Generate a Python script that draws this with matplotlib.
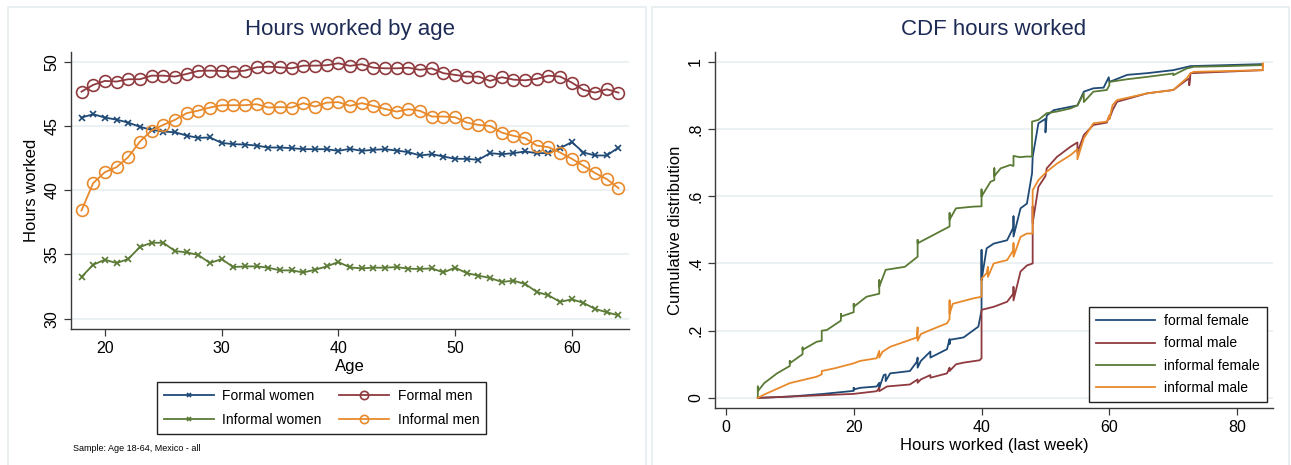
import matplotlib
matplotlib.use('Agg')
import matplotlib.pyplot as plt
from matplotlib.patches import Rectangle

plt.rcParams['font.family'] = ['Liberation Sans', 'DejaVu Sans']

# Hours worked by age, ages 18-64
ages = list(range(18, 65))
formal_women = [45.65, 45.91, 45.65, 45.49, 45.26, 44.93, 44.69, 44.56, 44.51, 44.25, 44.07, 44.10,
                43.68, 43.58, 43.55, 43.47, 43.32, 43.32, 43.27, 43.19, 43.19, 43.19,
                43.06, 43.22, 43.06, 43.14, 43.19, 43.08, 42.96, 42.70, 42.80, 42.62, 42.44, 42.44,
                42.36, 42.88, 42.80, 42.88, 43.01, 42.88, 42.88, 43.27, 43.74, 42.93, 42.70, 42.70, 43.32]
formal_men = [47.67, 48.19, 48.50, 48.45, 48.63, 48.63, 48.91, 48.91, 48.84, 49.04, 49.28, 49.30,
              49.28, 49.22, 49.30, 49.56, 49.61, 49.56, 49.48, 49.69, 49.69, 49.72, 49.87,
              49.67, 49.80, 49.53, 49.48, 49.48, 49.53, 49.36, 49.48, 49.10, 48.97, 48.84, 48.84,
              48.50, 48.79, 48.60, 48.55, 48.66, 48.91, 48.84, 48.37, 47.80, 47.59, 47.85, 47.59]
informal_women = [33.25, 34.20, 34.59, 34.33, 34.64, 35.58, 35.91, 35.91, 35.27, 35.16, 34.96, 34.33,
                  34.64, 34.02, 34.07, 34.07, 33.97, 33.76, 33.76, 33.60, 33.81, 34.07,
                  34.41, 33.99, 33.92, 33.97, 33.97, 34.02, 33.89, 33.87, 33.92, 33.60, 33.97, 33.55,
                  33.35, 33.17, 32.86, 32.96, 32.70, 32.08, 31.82, 31.31, 31.51, 31.23, 30.76, 30.50, 30.26]
informal_men = [38.42, 40.55, 41.40, 41.79, 42.57, 43.78, 44.64, 45.08, 45.47, 45.99, 46.19, 46.43,
                46.61, 46.61, 46.61, 46.69, 46.43, 46.46, 46.43, 46.77, 46.50, 46.81,
                46.85, 46.56, 46.77, 46.56, 46.32, 46.11, 46.30, 46.17, 45.73, 45.73, 45.68, 45.26,
                45.08, 45.00, 44.48, 44.23, 44.05, 43.47, 43.35, 42.93, 42.44, 41.90, 41.33, 40.86, 40.16]

# CDF of hours worked last week (unsorted duplicates give the vertical ticks)
ff_hours = [5, 10, 15.3, 20, 20, 20, 21, 23.6, 24, 24, 24.7, 25, 25, 25.7, 28.8, 29.9, 30, 30, 30.5,
            32, 32, 34.6, 35, 35, 35.1, 37.2, 39.5, 40, 40, 40, 40.8, 41.9, 44, 45, 45, 45, 46.1,
            47.1, 47.9, 48, 48.9, 50, 50, 50.2, 51.3, 53.9, 55, 56, 57.5, 59.1, 59.9, 60, 62.8,
            65.9, 70, 72.7, 84]
ff_cdf = [0, 0.004, 0.012, 0.021, 0.03, 0.025, 0.03, 0.034, 0.045, 0.03, 0.068, 0.07, 0.05, 0.073,
          0.08, 0.108, 0.12, 0.09, 0.11, 0.138, 0.12, 0.145, 0.175, 0.16, 0.173, 0.18, 0.212, 0.26,
          0.44, 0.35, 0.445, 0.459, 0.469, 0.508, 0.54, 0.48, 0.564, 0.578, 0.668, 0.717, 0.817,
          0.83, 0.79, 0.84, 0.856, 0.866, 0.87, 0.911, 0.921, 0.923, 0.954, 0.94, 0.961, 0.966,
          0.975, 0.987, 0.993]

fm_hours = [5, 15, 20, 23.6, 24, 24, 25.2, 28.8, 30, 30, 30.5, 32, 32, 34.6, 35, 35, 36, 37.2, 39.7,
            40, 40, 41.9, 44, 45, 45, 45, 46.1, 47.1, 48, 48, 48, 48.9, 50, 50.2, 51.8, 53.9, 55,
            55, 56, 57.5, 59.6, 60, 60, 60.5, 61.2, 65.9, 70, 72.1, 72.5, 72.5, 72.7, 84]
fm_cdf = [0, 0.008, 0.012, 0.02, 0.03, 0.02, 0.034, 0.04, 0.055, 0.045, 0.055, 0.068, 0.06, 0.073,
          0.09, 0.08, 0.1, 0.105, 0.112, 0.118, 0.262, 0.271, 0.286, 0.311, 0.33, 0.29, 0.376,
          0.394, 0.40, 0.57, 0.52, 0.628, 0.66, 0.683, 0.717, 0.747, 0.76, 0.73, 0.782, 0.812,
          0.819, 0.84, 0.83, 0.856, 0.881, 0.906, 0.916, 0.946, 0.95, 0.93, 0.966, 0.975]

if_hours = [5, 5, 5, 6, 8, 10, 10, 10, 12, 12, 12, 14.2, 15, 15, 15.8, 18, 18, 18, 20, 20, 20, 22,
            24, 24, 24, 25, 28, 30, 30, 30, 32, 35, 35, 35, 36, 38.7, 40, 40, 40, 41.4, 42, 42, 42,
            43, 44.5, 45, 45, 46, 47, 47.9, 47.9, 48.9, 50.2, 51.8, 53.9, 55, 56, 56, 57.5, 59.6,
            60, 60, 62.8, 65.9, 70, 70, 72.1, 73.2, 78.4, 84]
if_cdf = [0, 0.034, 0.02, 0.044, 0.073, 0.095, 0.11, 0.103, 0.13, 0.15, 0.143, 0.167, 0.17, 0.2,
          0.202, 0.23, 0.25, 0.242, 0.255, 0.28, 0.271, 0.301, 0.31, 0.35, 0.331, 0.381, 0.39,
          0.42, 0.47, 0.46, 0.48, 0.51, 0.55, 0.53, 0.564, 0.569, 0.57, 0.62, 0.599, 0.643, 0.648,
          0.683, 0.66, 0.683, 0.693, 0.69, 0.72, 0.716, 0.718, 0.718, 0.822, 0.827, 0.847, 0.852,
          0.861, 0.87, 0.906, 0.88, 0.911, 0.916, 0.93, 0.94, 0.948, 0.955, 0.965, 0.96, 0.98,
          0.985, 0.987, 0.99]

im_hours = [5, 6, 10, 14.2, 15, 15, 17, 20, 21, 23.6, 24, 24, 24.5, 25.7, 29.9, 30, 30, 30.5, 32,
            34.6, 35, 35, 35, 35.5, 38.7, 40, 40, 40.8, 41, 41, 41.9, 44, 45, 45, 45, 46.1, 47.1,
            48, 48, 48.9, 50.2, 51.8, 53.9, 55, 55, 56, 57.5, 59.6, 60, 60, 60.5, 61.2, 65.9, 70,
            72.1, 72.7, 73.2, 84, 84, 84]
im_cdf = [0, 0.01, 0.044, 0.063, 0.07, 0.08, 0.088, 0.103, 0.11, 0.118, 0.14, 0.12, 0.137, 0.152,
          0.18, 0.21, 0.17, 0.19, 0.202, 0.222, 0.235, 0.29, 0.25, 0.28, 0.296, 0.301, 0.355,
          0.371, 0.39, 0.36, 0.40, 0.41, 0.44, 0.46, 0.42, 0.479, 0.489, 0.489, 0.618, 0.648,
          0.673, 0.697, 0.722, 0.74, 0.71, 0.772, 0.817, 0.822, 0.84, 0.83, 0.871, 0.886, 0.906,
          0.916, 0.951, 0.966, 0.970, 0.975, 0.995, 0.985]

NAVY = '#1f4a76'
MAROON = '#8f3a3e'
GREEN = '#5a7a35'
ORANGE = '#e88a2c'
TITLE_C = '#1d2b55'
GRID_C = '#e9eff2'
SPINE_C = '#3a3a3a'

fig = plt.figure(figsize=(12.91, 4.65), dpi=100)

# light frames around each graph
for x0, x1 in [(8, 646), (652, 1289)]:
    fig.add_artist(Rectangle((x0 / 1291, -0.1), (x1 - x0) / 1291, (1 - 7 / 465) + 0.1,
                             transform=fig.transFigure, fill=False, edgecolor='#e6ecef', lw=1.2))


def style_axes(ax):
    for s in ['top', 'right']:
        ax.spines[s].set_visible(False)
    for s in ['left', 'bottom']:
        ax.spines[s].set_color(SPINE_C)
        ax.spines[s].set_linewidth(1.0)
    ax.tick_params(direction='out', length=5, width=0.9, color=SPINE_C, labelsize=11.5)
    ax.grid(axis='y', color=GRID_C, lw=1.2)
    ax.set_axisbelow(True)
    for lab in ax.get_yticklabels():
        lab.set_rotation(90)
        lab.set_va('center')


# Left: hours by age
ax1 = fig.add_axes([71 / 1291, 1 - 329 / 465, 558 / 1291, 277 / 465])
l_fw, = ax1.plot(ages, formal_women, color=NAVY, lw=1.3, marker='x', ms=4, mew=1.2)
l_fm, = ax1.plot(ages, formal_men, color=MAROON, lw=1.3, marker='o', ms=8.5, mfc='none', mew=1.2)
l_iw, = ax1.plot(ages, informal_women, color=GREEN, lw=1.3, marker='x', ms=4, mew=1.2)
l_im, = ax1.plot(ages, informal_men, color=ORANGE, lw=1.3, marker='o', ms=8.5, mfc='none', mew=1.2)
ax1.set_xlim(17.1, 64.9)
ax1.set_ylim(29.2, 50.75)
ax1.set_xticks([20, 30, 40, 50, 60])
ax1.set_yticks([30, 35, 40, 45, 50])
style_axes(ax1)
ax1.set_xlabel('Age', fontsize=12, labelpad=2)
ax1.set_ylabel('Hours worked', fontsize=12, labelpad=4)
ax1.set_title('Hours worked by age', fontsize=16, color=TITLE_C, pad=12)

fig.legend([l_fw, l_iw, l_fm, l_im],
           ['Formal women', 'Informal women', 'Formal men', 'Informal men'],
           ncol=2, loc='center', bbox_to_anchor=(321.5 / 1291, 1 - 408 / 465),
           fontsize=10, handlelength=3.6, handletextpad=0.6, markerscale=0.7,
           fancybox=False, framealpha=1, edgecolor='#222222', columnspacing=1.3,
           borderpad=0.5, labelspacing=0.75)
fig.text(73 / 1291, 1 - 448 / 465, 'Sample: Age 18-64, Mexico - all', fontsize=6.5, va='center')

# Right: CDF of hours worked
ax2 = fig.add_axes([715 / 1291, 1 - 408 / 465, 558 / 1291, 356 / 465])
ax2.plot(ff_hours, ff_cdf, color=NAVY, lw=1.3, label='formal female')
ax2.plot(fm_hours, fm_cdf, color=MAROON, lw=1.3, label='formal male')
ax2.plot(if_hours, if_cdf, color=GREEN, lw=1.3, label='informal female')
ax2.plot(im_hours, im_cdf, color=ORANGE, lw=1.3, label='informal male')
ax2.set_xlim(-1.7, 85.6)
ax2.set_ylim(-0.03, 1.029)
ax2.set_xticks([0, 20, 40, 60, 80])
ax2.set_yticks([0, 0.2, 0.4, 0.6, 0.8, 1.0])
ax2.set_yticklabels(['0', '.2', '.4', '.6', '.8', '1'])
style_axes(ax2)
ax2.set_xlabel('Hours worked (last week)', fontsize=12, labelpad=2)
ax2.set_ylabel('Cumulative distribution', fontsize=12, labelpad=4)
ax2.set_title('CDF hours worked', fontsize=16, color=TITLE_C, pad=12)
ax2.legend(loc='lower right', bbox_to_anchor=(1267 / 1291, 1 - 402 / 465),
           bbox_transform=fig.transFigure, borderaxespad=0, fontsize=10, handlelength=4.3,
           handletextpad=0.65, fancybox=False, framealpha=1, edgecolor='#222222',
           borderpad=0.5, labelspacing=0.6)

plt.savefig('out.png', dpi=100)
